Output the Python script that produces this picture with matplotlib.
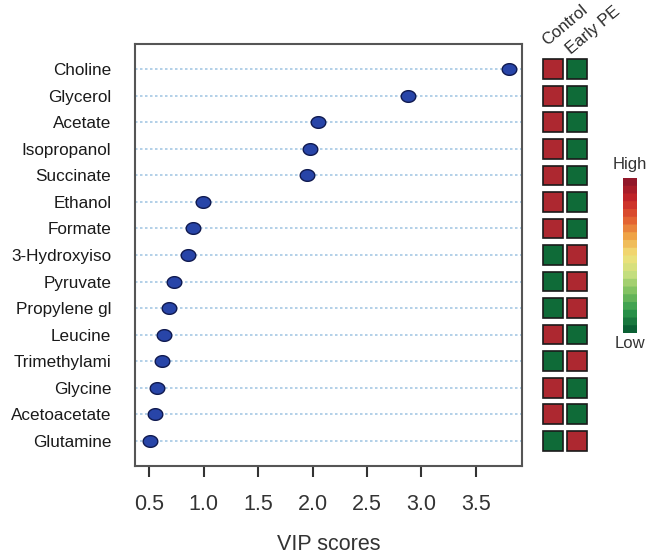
import matplotlib
matplotlib.use("Agg")
import matplotlib.pyplot as plt
import numpy as np
from matplotlib.path import Path
from matplotlib.patches import Rectangle
from matplotlib.colors import LinearSegmentedColormap

plt.rcParams['font.family'] = ['Liberation Sans', 'DejaVu Sans']

metabolites = ["Choline", "Glycerol", "Acetate", "Isopropanol", "Succinate",
               "Ethanol", "Formate", "3-Hydroxyiso", "Pyruvate", "Propylene gl",
               "Leucine", "Trimethylami", "Glycine", "Acetoacetate", "Glutamine"]
vip_scores = [3.81, 2.88, 2.05, 1.98, 1.95, 0.99, 0.90, 0.86, 0.73, 0.68,
              0.64, 0.62, 0.57, 0.55, 0.51]
groups = ["Control", "Early PE"]
# 1 = high, 0 = low
control_level = [1, 1, 1, 1, 1, 1, 1, 0, 0, 0, 1, 0, 1, 1, 0]
early_pe_level = [0, 0, 0, 0, 0, 0, 0, 1, 1, 1, 0, 1, 0, 0, 1]
xticks = [0.5, 1.0, 1.5, 2.0, 2.5, 3.0, 3.5]

W, H = 649, 558
fig = plt.figure(figsize=(W / 100, H / 100), dpi=100)

def fx(px):
    return px / W

def fy(py):
    return 1 - py / H

ax_l, ax_r, ax_t, ax_b = 135, 522, 44, 466
ax = fig.add_axes([fx(ax_l), fy(ax_b), fx(ax_r - ax_l), fy(ax_t) - fy(ax_b)])

n = len(metabolites)
ypos = np.arange(n, 0, -1)

for y in ypos:
    ax.axhline(y, color="#a6c8e4", lw=1.2, ls=(0, (1.5, 1.5)), zorder=1)

# elliptical marker
t = np.linspace(0, 2 * np.pi, 60)
ell = Path(np.column_stack([1.25 * np.cos(t), np.sin(t)]), closed=True)
ax.plot(vip_scores, ypos, ls="none", marker=ell, ms=10.5, mfc="#2845a8",
        mec="#101a50", mew=1.0, zorder=3)

ax.set_xlim(0.369, 3.925)
ax.set_ylim(0.05, n + 0.95)
ax.set_yticks(ypos)
ax.set_yticklabels(metabolites, fontsize=12.3, color="#1a1a1a")
ax.tick_params(axis="y", length=0, pad=17)
ax.set_xticks(xticks)
ax.set_xticklabels([f"{v:.1f}" for v in xticks], fontsize=15.5, color="#333333")
ax.tick_params(axis="x", length=8, width=1.5, color="#333333", pad=12, direction="out")
for s in ax.spines.values():
    s.set_color("#555555")
    s.set_linewidth(1.5)
ax.set_xlabel("VIP scores", fontsize=15.5, color="#333333", labelpad=14)

# heatmap columns
hx_l = 541
hax = fig.add_axes([fx(hx_l), fy(ax_b), fx(48), fy(ax_t) - fy(ax_b)])
hax.set_xlim(0, 2)
hax.set_ylim(0.05, n + 0.95)
hax.axis("off")
red, green = "#ad2830", "#0f6b38"
sq_w, sq_h = 0.83, 0.74
for levels, cx in ((control_level, 0.5), (early_pe_level, 1.5)):
    for y, lv in zip(ypos, levels):
        hax.add_patch(Rectangle((cx - sq_w / 2, y - sq_h / 2), sq_w, sq_h,
                                facecolor=red if lv else green,
                                edgecolor="#1a1a1a", lw=1.2))
hax.text(0.32, n + 0.8, groups[0], rotation=40, rotation_mode="anchor",
         ha="left", va="bottom", fontsize=12, color="#2a2a2a", clip_on=False)
hax.text(1.33, n + 0.45, groups[1], rotation=40, rotation_mode="anchor",
         ha="left", va="bottom", fontsize=12, color="#2a2a2a", clip_on=False)

# colour key
cmap = LinearSegmentedColormap.from_list(
    "key", ["#0b6034", "#2e9a4c", "#7cc060", "#c8e080", "#f2e27a", "#f0a848",
            "#e25c30", "#c82628", "#92182a"], N=20)
cax = fig.add_axes([fx(623), fy(333), fx(14), fy(178) - fy(333)])
grad = np.linspace(0, 1, 200).reshape(-1, 1)
cax.imshow(grad, cmap=cmap, aspect="auto", origin="lower", extent=[0, 1, 0, 1])
cax.axis("off")
fig.text(fx(630), fy(164), "High", ha="center", va="center", fontsize=12, color="#333333")
fig.text(fx(630), fy(344), "Low", ha="center", va="center", fontsize=12, color="#333333")

fig.savefig("out.png", dpi=100)
